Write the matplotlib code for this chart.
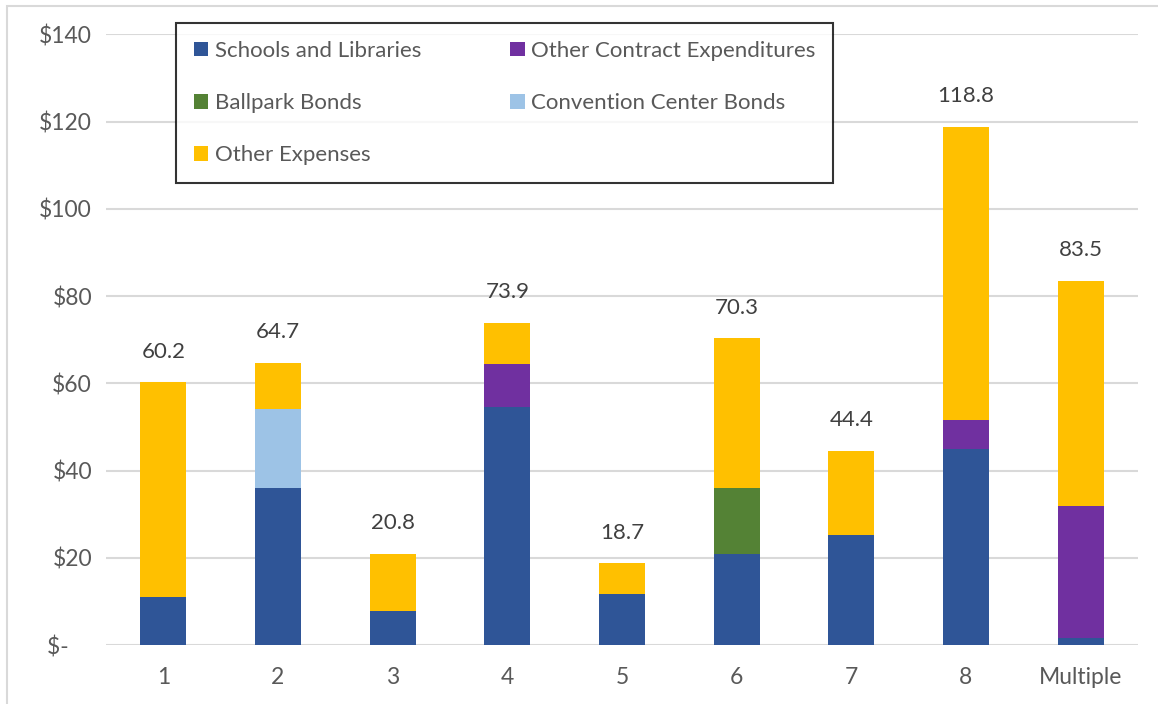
import matplotlib.pyplot as plt
import matplotlib.patches as mpatches
import numpy as np

plt.rcParams['font.family'] = ['Lato', 'DejaVu Sans']

categories = ["1", "2", "3", "4", "5", "6", "7", "8", "Multiple"]
schools = [11.1, 35.9, 7.9, 54.5, 11.7, 20.9, 25.3, 44.9, 1.5]
other_contract = [0, 0, 0, 10.0, 0, 0, 0, 6.6, 30.3]
ballpark = [0, 0, 0, 0, 0, 15.0, 0, 0, 0]
convention = [0, 18.2, 0, 0, 0, 0, 0, 0, 0]
totals = [60.2, 64.7, 20.8, 73.9, 18.7, 70.3, 44.4, 118.8, 83.5]
other_exp = [t - s - c - b - v for t, s, c, b, v in
             zip(totals, schools, other_contract, ballpark, convention)]

yticks = [0, 20, 40, 60, 80, 100, 120, 140]
ylabels = ["$-    ", "$20", "$40", "$60", "$80", "$100", "$120", "$140"]

txt = "#595959"
fig = plt.figure(figsize=(11.58, 7.04), dpi=100)
ax = fig.add_axes([0.0915, 0.0838, 0.8912, 0.8675])

x = np.arange(len(categories))
w = 0.4
bottom = np.zeros(len(x))
series = [
    ("Schools and Libraries", schools, "#2F5597"),
    ("Other Contract Expenditures", other_contract, "#7030A0"),
    ("Ballpark Bonds", ballpark, "#548235"),
    ("Convention Center Bonds", convention, "#9DC3E6"),
    ("Other Expenses", other_exp, "#FFC000"),
]
handles = {}
for name, vals, col in series:
    bars = ax.bar(x, vals, w, bottom=bottom, color=col, zorder=3)
    handles[name] = bars
    bottom += np.array(vals)

for xi, t in zip(x, totals):
    ax.annotate(f"{t:.1f}", (xi, t), xytext=(0, 15), textcoords="offset points",
                ha="center", va="bottom", fontsize=16, color="#404040")

ax.set_xlim(-0.5, len(x) - 0.5)
ax.set_ylim(0, 140)
ax.set_yticks(yticks)
ax.set_yticklabels(ylabels)
ax.set_xticks(x)
ax.set_xticklabels(categories)
ax.tick_params(axis="both", length=0, labelsize=16.5, labelcolor=txt)
ax.tick_params(axis="y", pad=10)
ax.tick_params(axis="x", pad=16)
ax.grid(axis="y", color="#D9D9D9", linewidth=1.5, zorder=0)
for s in ax.spines.values():
    s.set_visible(False)

order = ["Schools and Libraries", "Ballpark Bonds", "Other Expenses",
         "Other Contract Expenditures", "Convention Center Bonds"]
leg = fig.legend([handles[n] for n in order], order, ncol=2,
                 loc="upper left", bbox_to_anchor=(176 / 1158, 1 - 23 / 704),
                 borderaxespad=0,
                 fontsize=16, frameon=True, fancybox=False, edgecolor="black",
                 handlelength=0.65, handleheight=0.65, handletextpad=0.3,
                 labelspacing=1.45, columnspacing=4.0, borderpad=0.8,
                 labelcolor=txt)
leg.get_frame().set_linewidth(1.5)
leg.set_zorder(10)

fig.patches.append(mpatches.Rectangle((7 / 1158, -0.1), 1.2, 1 - 6 / 704 + 0.1,
                                      transform=fig.transFigure, fill=False,
                                      edgecolor="#D9D9D9", linewidth=1.5))

fig.savefig("out.png", dpi=100)
